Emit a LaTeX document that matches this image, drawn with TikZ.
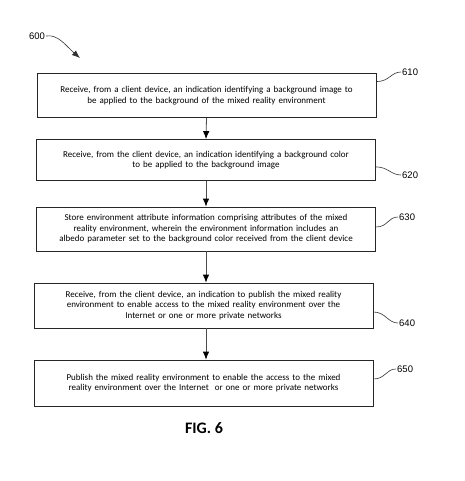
\documentclass[tikz,border=0pt]{standalone}
\usepackage{fontspec}
\setmainfont{Carlito}
\newfontfamily\refnum{Liberation Sans}
\usetikzlibrary{arrows,arrows.meta,positioning}
\tikzset{
  stepbox/.style={draw=black!85, line width=0.8pt, minimum width=339pt, minimum height=44pt,
    text width=333pt, align=center, inner sep=2pt, font=\fontsize{9}{10.4}\selectfont},
  refnode/.style={font=\refnum\fontsize{9.5}{11}\selectfont, inner sep=1pt},
  lead/.style={line width=0.6pt, black!80},
  flow/.style={line width=0.8pt, black!70, -{Latex[length=8pt,width=6.5pt,black]}}
}

\begin{document}
\begin{tikzpicture}[x=1pt,y=-1pt,>=latex]
  \useasboundingbox (0,0) rectangle (464,481); %Page frame

  \node[refnode] (l600) at (37,36) {600};   %Figure number
  \coordinate (tip600) at (80,58);
  \draw[lead,-{Latex[length=8pt,width=6pt]}] (l600.east) .. controls +(12,-2) and +(-14,-12) .. (tip600);

  \node[stepbox] (b610) at (206.5,95.5) {Receive, from a client device, an indication identifying a background image to\\ be applied to the background of the mixed reality environment};
  \node[stepbox, minimum height=41pt] (b620) at (206,160) {Receive, from the client device, an indication identifying a background color\\ to be applied to the background image};
  \node[stepbox] (b630) at (206,229) {Store environment attribute information comprising attributes of the mixed\\ reality environment, wherein the environment information includes an\\ albedo parameter set to the background color received from the client device};
  \node[stepbox, minimum height=45pt] (b640) at (203.5,305.5) {Receive, from the client device, an indication to publish the mixed reality\\ environment to enable access to the mixed reality environment over the\\ Internet or one or more private networks};
  \node[stepbox, minimum height=46pt] (b650) at (203.5,383) {Publish the mixed reality environment to enable the access to the mixed\\ reality environment over the Internet\ \ or one or more private networks};

  \draw[flow] (b610.south) -- (b620.north);
  \draw[flow] (b620.south) -- (b630.north);
  \draw[flow] (b630.south -| b620.south) -- (b640.north -| b620.south);
  \draw[flow] (b640.south -| b620.south) -- (b650.north -| b620.south);

  \node[refnode, anchor=west] (l610) at (401,72) {610};  %Reference numerals
  \node[refnode, anchor=west] (l620) at (401,175) {620};
  \node[refnode, anchor=west] (l630) at (398,217) {630};
  \node[refnode, anchor=west] (l640) at (398,323) {640};
  \node[refnode, anchor=west] (l650) at (396,369) {650};

  \draw[lead] ([yshift=-8.5pt]b610.north east) .. controls +(13,0) and +(-10,0) .. (l610.west);
  \draw[lead] ([yshift=14pt]b620.south east) .. controls +(12,0) and +(-10,0) .. (l620.west);
  \draw[lead] ([yshift=2pt]b630.east) .. controls +(12,0) and +(-10,0) .. (l630.west);
  \draw[lead] ([yshift=-6.5pt]b640.east) .. controls +(12,0) and +(-10,0) .. (l640.west);
  \draw[lead] ([yshift=4pt]b650.east) .. controls +(12,0) and +(-10,0) .. (l650.west);

  \node[font=\bfseries\fontsize{16}{18}\selectfont] (fig) at (204,428) {FIG. 6};
\end{tikzpicture}
\end{document}
